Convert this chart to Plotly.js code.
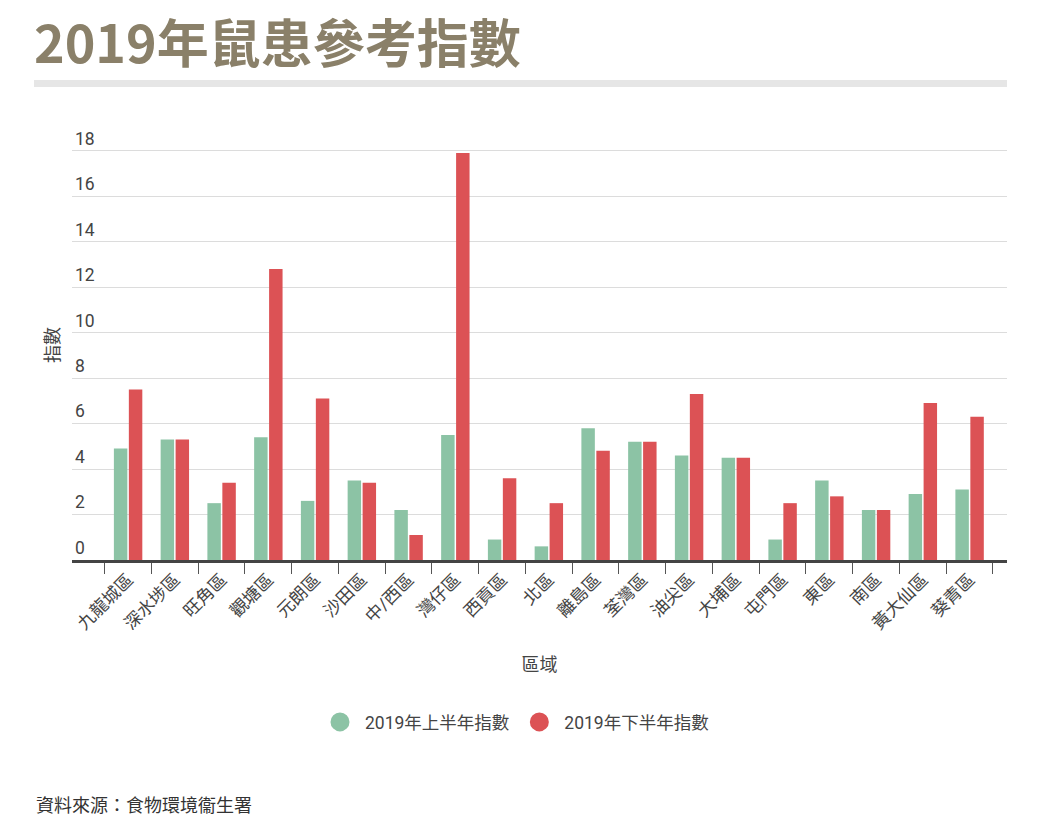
<!DOCTYPE html>
<html>
<head>
<meta charset="utf-8">
<script src="https://cdn.plot.ly/plotly-3.0.1.min.js"></script>
<style>html,body{margin:0;padding:0;background:#fff;}#chart{width:1050px;height:822px;}</style>
</head>
<body>
<div id="chart"></div>
<script>
const districts = ["九龍城區","深水埗區","旺角區","觀塘區","元朗區","沙田區","中/西區","灣仔區","西貢區","北區","離島區","荃灣區","油尖區","大埔區","屯門區","東區","南區","黃大仙區","葵青區"];
const firstHalf = [4.9,5.3,2.5,5.4,2.6,3.5,2.2,5.5,0.9,0.6,5.8,5.2,4.6,4.5,0.9,3.5,2.2,2.9,3.1];
const secondHalf = [7.5,5.3,3.4,12.8,7.1,3.4,1.1,17.9,3.6,2.5,4.8,5.2,7.3,4.5,2.5,2.8,2.2,6.9,6.3];
const seriesNames = ["2019年上半年指數","2019年下半年指數"];
const yTicks = [0,2,4,6,8,10,12,14,16,18];

const GREEN = "#8cc3a5", RED = "#dc5255";
const FONT = "Roboto, 'Noto Sans CJK TC', sans-serif";

// plot area geometry (pixels)
const PT = 128, PB = 560, PL = 72, PR = 1007;
const PH = PB - PT, PW = PR - PL;
const py = v => (PB - v) / PH;
const px = v => (v - PL) / PW;

const traces = [
  {type:"bar", x:districts, y:firstHalf, name:seriesNames[0], marker:{color:GREEN}, showlegend:false, hoverinfo:"x+y"},
  {type:"bar", x:districts, y:secondHalf, name:seriesNames[1], marker:{color:RED}, showlegend:false, hoverinfo:"x+y"},
  {type:"scatter", mode:"markers", x:[null], y:[null], name:seriesNames[0], marker:{color:GREEN, size:16, symbol:"circle", line:{color:GREEN, width:3}}, showlegend:true},
  {type:"scatter", mode:"markers", x:[null], y:[null], name:seriesNames[1], marker:{color:RED, size:16, symbol:"circle", line:{color:RED, width:3}}, showlegend:true}
];

const layout = {
  width:1050, height:822,
  paper_bgcolor:"#fff", plot_bgcolor:"#fff",
  margin:{l:PL, r:1050-PR, t:PT, b:822-PB, autoexpand:false},
  font:{family:FONT, color:"#444", size:16},
  barmode:"group", bargap:0.36, bargroupgap:0.1,
  xaxis:{
    type:"category", range:[-1.2, 18.8], tickson:"boundaries",
    ticks:"outside", ticklen:11, tickcolor:"#555", tickwidth:1,
    showline:true, linecolor:"#444", linewidth:2.5,
    tickangle:-45, tickfont:{size:17.5, color:"#444", family:FONT},
    title:{text:"區域", font:{size:18, color:"#444"}, standoff:26},
    showgrid:false, fixedrange:true, automargin:false
  },
  yaxis:{
    range:[0, 19], tickvals:yTicks, ticktext:yTicks.map(String),
    ticklabelposition:"inside top", tickfont:{size:17.5, color:"#444", family:FONT},
    showgrid:true, gridcolor:"#dcdcdc", gridwidth:1, zeroline:false, showline:false, ticks:"",
    fixedrange:true, automargin:false
  },
  legend:{orientation:"h", x:0.49, xanchor:"center", xref:"container", y:py(722), yanchor:"middle",
          font:{size:17.5, color:"#444"}, itemwidth:40, itemclick:false, itemdoubleclick:false},
  shapes:[{type:"rect", xref:"paper", yref:"paper", x0:px(34), x1:1.0, y0:py(87), y1:py(80), fillcolor:"#e6e6e6", line:{width:0}}],
  annotations:[
    {text:"<b>2019年鼠患參考指數</b>", xref:"paper", yref:"paper", x:px(32), xanchor:"left", y:py(40), yanchor:"middle",
     showarrow:false, font:{family:"'Noto Sans CJK TC', sans-serif", size:52, color:"#8a8069"}},
    {text:"指數", xref:"paper", yref:"paper", x:px(52), xanchor:"center", y:py(345), yanchor:"middle", textangle:-90,
     showarrow:false, font:{size:18, color:"#444"}},
    {text:"資料來源：食物環境衞生署", xref:"paper", yref:"paper", x:px(34), xanchor:"left", y:py(805), yanchor:"middle",
     showarrow:false, font:{size:18, color:"#333"}}
  ]
};
Plotly.newPlot("chart", traces, layout, {displayModeBar:false});
</script>
</body>
</html>
